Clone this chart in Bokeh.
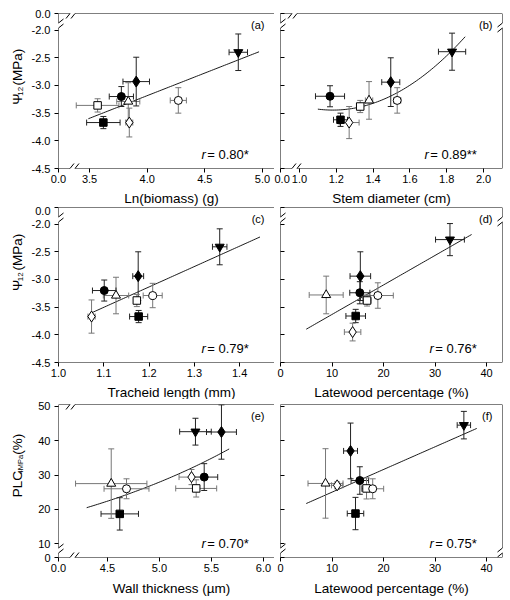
import numpy as np
from bokeh.plotting import figure
from bokeh.models import Range1d, FixedTicker, Label, Arrow, ColumnDataSource
from bokeh.layouts import row, column
from bokeh.core.properties import field
from bokeh.embed import file_html
from bokeh.resources import INLINE

FONT = "Liberation Sans"

# ---------------- data ----------------
# species order: filled inv. triangle, filled diamond, filled circle, open triangle,
# open square, filled square, open diamond, open circle
species = ["T", "D", "C", "oT", "oS", "S", "oD", "oC"]
markers = ["inverted_triangle", "diamond", "circle", "triangle", "square", "square", "diamond", "circle"]
fills = ["black", "black", "black", "white", "white", "black", "white", "white"]
err_colors = ["#222222", "#222222", "#222222", "#777777", "#777777", "#222222", "#777777", "#777777"]
sizes = [9, 11, 8, 9, 7.5, 7.5, 11, 8]

# (a) Ln(biomass) vs Psi12
biomass = [4.79, 3.905, 3.776, 3.836, 3.57, 3.62, 3.845, 4.27]
biomass_err = [0.08, 0.115, 0.105, 0.10, 0.185, 0.145, 0.03, 0.07]
psi_a = [-2.40, -2.93, -3.20, -3.29, -3.36, -3.67, -3.67, -3.27]
psi_a_err = [0.33, 0.44, 0.18, 0.34, 0.12, 0.11, 0.26, 0.23]

# (b) stem diameter vs Psi12
stem = [1.829, 1.496, 1.166, 1.378, 1.330, 1.223, 1.270, 1.531]
stem_err = [0.074, 0.049, 0.079, 0.02, 0.018, 0.038, 0.054, 0.02]
psi_b = [-2.39, -2.94, -3.195, -3.27, -3.38, -3.62, -3.67, -3.27]
psi_b_err = [0.335, 0.44, 0.19, 0.34, 0.11, 0.12, 0.29, 0.23]

# (c) tracheid length vs Psi12
tracheid = [1.356, 1.176, 1.101, 1.127, 1.173, 1.177, 1.073, 1.208]
tracheid_err = [0.016, 0.012, 0.026, 0.028, 0.006, 0.02, 0.008, 0.021]
psi_c = [-2.41, -2.94, -3.20, -3.29, -3.38, -3.67, -3.67, -3.29]
psi_c_err = [0.325, 0.44, 0.19, 0.33, 0.11, 0.11, 0.30, 0.22]

# (d) latewood percentage vs Psi12
latewood_d = [32.9, 15.5, 15.4, 8.87, 16.8, 14.6, 14.0, 18.9]
latewood_d_err = [2.8, 2.0, 1.95, 3.3, 0.8, 1.9, 1.6, 3.0]
psi_d = [-2.28, -2.94, -3.24, -3.28, -3.38, -3.66, -3.95, -3.29]
psi_d_err = [0.29, 0.44, 0.2, 0.34, 0.1, 0.12, 0.16, 0.23]

# (e) wall thickness vs PLC4MPa
wall = [5.346, 5.596, 5.43, 4.536, 5.353, 4.618, 5.308, 4.683]
wall_err = [0.152, 0.144, 0.13, 0.343, 0.197, 0.18, 0.12, 0.216]
plc_e = [42.6, 42.5, 29.4, 27.5, 26.1, 18.7, 29.4, 26.0]
plc_e_err = [3.9, 7.9, 3.9, 10.1, 2.5, 4.7, 2.2, 2.9]

# (f) latewood percentage vs PLC4MPa
latewood_f = [35.6, 13.6, 15.4, 8.74, 16.7, 14.56, 11.0, 17.9]
latewood_f_err = [1.3, 1.35, 1.7, 3.4, 1.0, 1.6, 1.1, 2.13]
plc_f = [44.5, 37.0, 28.4, 27.55, 26.1, 18.8, 27.0, 26.0]
plc_f_err = [4.0, 8.1, 4.0, 10.1, 3.06, 4.7, 1.0, 2.9]

# regression extents
fit_x_a = [3.49, 4.97]
fit_x_b = [1.10, 1.90]
fit_x_c = [1.073, 1.445]
fit_x_d = [5.0, 37.1]
fit_x_e = [4.30, 5.67]
fit_x_f = [5.0, 38.1]

r_texts = ["0.80*", "0.89**", "0.79*", "0.76*", "0.70*", "0.75*"]
panel_keys = ["a", "b", "c", "d", "e", "f"]

# ticks
psi_range = (-4.5, -1.70)
psi_ticks = [-4.5, -4.0, -3.5, -3.0, -2.5, -2.0]
psi_labels = ["-4.5", "-4.0", "-3.5", "-3.0", "-2.5", "-2.0"]
plc_range = (6.02, 50.5)
plc_ticks = [10, 20, 30, 40, 50]
plc_labels = ["10", "20", "30", "40", "50"]

biomass_range = (3.231, 5.104)
biomass_ticks = [3.5, 4.0, 4.5, 5.0]
biomass_labels = ["3.5", "4.0", "4.5", "5.0"]
stem_range = (0.897, 2.103)
stem_ticks = [1.0, 1.2, 1.4, 1.6, 1.8, 2.0]
stem_labels = ["1.0", "1.2", "1.4", "1.6", "1.8", "2.0"]
tracheid_range = (1.0, 1.477)
tracheid_ticks = [1.0, 1.1, 1.2, 1.3, 1.4]
tracheid_labels = ["1.0", "1.1", "1.2", "1.3", "1.4"]
latewood_range = (0.0, 43.1)
latewood_ticks = [0, 10, 20, 30, 40]
latewood_labels = ["0", "10", "20", "30", "40"]
wall_range = (4.029, 6.106)
wall_ticks = [4.5, 5.0, 5.5, 6.0]
wall_labels = ["4.5", "5.0", "5.5", "6.0"]

x_titles = ["Ln(biomass) (g)", "Stem diameter (cm)", "Tracheid length (mm)",
            "Latewood percentage (%)", "Wall thickness (\u00b5m)", "Latewood percentage (%)"]
# (text, font px, shift toward baseline, gap after)
psi_title = [("\u03a8", 13.5, 0, 0.5), ("12", 8, 3, 3.5), ("(MPa)", 13.5, 0, 0)]
plc_title = [("PLC", 13.5, 0, 0.5), ("4MPa", 7.5, 3, 3.5), ("(%)", 13.5, 0, 0)]

# Arial-like advance widths (em)
CW = {" ": .278, "=": .584, ".": .278, "*": .389, "r": .333, "(": .333, ")": .333,
      "%": .889, "M": .833, "P": .667, "a": .556, "L": .556, "C": .722, "\u03a8": .80}

# row geometry: (top border, frame height, bottom border), and title strip heights
ROWS = [(13, 155, 22), (1, 155, 22), (5, 153, 22)]
STRIPS = [16, 15, 21]
STRIP_Y = [8, 7, 12]
TITLE_W = 28
LEFT_W = 30 + 216
RIGHT_W = 6 + 222 + 8


def tw(s, size):
    return sum(CW.get(ch, .556) for ch in s) * size


def seg(p, xa, ya, xb, yb, color="black", w=1.0):
    p.add_layout(Arrow(end=None, x_start=xa, y_start=ya, x_end=xb, y_end=yb,
                       line_color=color, line_width=w))


def blank_fig(w, h):
    p = figure(width=w, height=h, x_range=Range1d(0, w), y_range=Range1d(0, h),
               min_border=0, output_backend="svg", toolbar_location=None, tools="",
               x_axis_location=None, y_axis_location=None, title=None)
    p.outline_line_color = None
    p.xgrid.visible = False
    p.ygrid.visible = False
    return p


def title_fig(row_i, pieces, start):
    bt, fh, bb = ROWS[row_i]
    p = blank_fig(TITLE_W, bt + fh + bb)
    pos = bb + start
    for txt, fs, shift, gap in pieces:
        p.add_layout(Label(x=17 + shift, y=pos, text=txt, angle=np.pi / 2,
                           text_align="left", text_baseline="middle", text_font=FONT,
                           text_font_size="%spx" % fs, text_color="black"))
        pos += tw(txt, fs) + gap
    return p


def strip_fig(row_i, left_title, right_title):
    h = STRIPS[row_i]
    p = blank_fig(TITLE_W + LEFT_W + RIGHT_W, h)
    yc = STRIP_Y[row_i]
    for txt, xc in ((left_title, 171), (right_title, 391)):
        p.add_layout(Label(x=xc, y=yc, text=txt, text_align="center", text_baseline="middle",
                           text_font=FONT, text_font_size="13.5px", text_color="black"))
    return p


def make_panel(i, x, xe, y, ye, fit, fit_x, xr, yr, xt, xl, x_break_label,
               yt, yl, y_break_label, row_i):
    col = i % 2
    left = col == 0
    x0, x1 = xr
    y0, y1 = yr
    fw = 216 if left else 222
    bl = 30 if left else 6
    br = 0 if left else 8
    bt, fh, bb = ROWS[row_i]
    p = figure(width=bl + fw + br, height=bt + fh + bb,
               x_range=Range1d(x0, x1), y_range=Range1d(y0, y1),
               min_border_left=bl, min_border_right=br, min_border_top=bt, min_border_bottom=bb,
               output_backend="svg", toolbar_location=None, tools="", title=None)
    p.outline_line_color = None
    p.xgrid.visible = False
    p.ygrid.visible = False
    p.background_fill_color = "white"
    p.border_fill_color = "white"
    dx = (x1 - x0) / fw
    dy = (y1 - y0) / fh

    # ticks
    xticks = list(xt)
    xlabs = list(xl)
    if x_break_label is not None:
        xticks = [x0] + xticks
        xlabs = [x_break_label] + xlabs
    yticks = list(yt)
    ylabs = list(yl)
    if row_i < 2:
        yticks = yticks + [y1]
        ylabs = ylabs + [y_break_label]
    else:
        yticks = [y0] + yticks
        ylabs = [y_break_label] + ylabs

    xa = p.xaxis[0]
    ya = p.yaxis[0]
    xa.ticker = FixedTicker(ticks=xticks)
    xa.major_label_overrides = {t: s for t, s in zip(xticks, xlabs)}
    ya.ticker = FixedTicker(ticks=yticks)
    for ax in (xa, ya):
        ax.axis_line_color = None
        ax.minor_tick_line_color = None
        ax.major_tick_line_color = "black"
        ax.major_label_text_font = FONT
        ax.major_label_text_font_size = "11px"
        ax.major_label_text_color = "black"
    xa.major_tick_out = 4
    xa.major_tick_in = 0
    xa.major_label_standoff = 2
    if left:
        ya.major_label_overrides = {t: s for t, s in zip(yticks, ylabs)}
        ya.major_tick_out = 4
        ya.major_tick_in = 0
        ya.major_label_standoff = 4
    else:
        ya.major_label_overrides = {t: "" for t in yticks}
        ya.major_tick_out = 0
        ya.major_tick_in = 4
        ya.major_label_text_font_size = "0px"
        ya.major_label_standoff = 0

    # regression
    xa_ = np.array(x, dtype=float)
    ya_ = np.array(y, dtype=float)
    fx = np.linspace(fit_x[0], fit_x[1], 80)
    if fit == "lin":
        fy = np.polyval(np.polyfit(xa_, ya_, 1), fx)
    elif fit == "quad":
        fy = np.polyval(np.polyfit(xa_, ya_, 2), fx)
    else:
        fy = np.exp(np.polyval(np.polyfit(xa_, np.log(ya_), 1), fx))
    p.line(fx, fy, line_color="black", line_width=0.9)

    xe_ = np.array(xe, dtype=float)
    ye_ = np.array(ye, dtype=float)
    src = ColumnDataSource(dict(x=xa_, y=ya_, xl=xa_ - xe_, xh=xa_ + xe_, yl=ya_ - ye_, yh=ya_ + ye_,
                                ec=err_colors, m=markers, f=fills, s=sizes))
    p.segment(x0="xl", y0="y", x1="xh", y1="y", line_color="ec", line_width=1, source=src)
    p.segment(x0="x", y0="yl", x1="x", y1="yh", line_color="ec", line_width=1, source=src)
    for xc in ("xl", "xh"):
        p.scatter(x=xc, y="y", marker="dash", angle=np.pi / 2, size=6, line_color="ec", source=src)
    for yc in ("yl", "yh"):
        p.scatter(x="x", y=yc, marker="dash", size=6, line_color="ec", source=src)
    p.scatter(x="x", y="y", marker=field("m"), size="s", fill_color="f", line_color="black",
              line_width=1, source=src)

    # spines with breaks
    g = 2.5
    xs = x0 - (6 * dx if not left else 0)
    xb = x0 + 14 * dx if x_break_label is not None else None
    for yy in (y0, y1):
        if xb is None:
            seg(p, xs, yy, x1, yy)
        else:
            seg(p, xs, yy, xb - g * dx, yy)
            seg(p, xb + g * dx, yy, x1, yy)
            for sgn in (-1, 1):
                xc = xb + sgn * g * dx
                seg(p, xc - 4 * dx, yy - 5 * dy, xc + 4 * dx, yy + 5 * dy)
    yb = (y1 - 12 * dy) if row_i < 2 else (y0 + 7 * dy)
    vx = [x0] if left else [x0, x1]
    for xx in vx:
        seg(p, xx, y0, xx, yb - g * dy)
        seg(p, xx, yb + g * dy, xx, y1)
        for sgn in (-1, 1):
            yc = yb + sgn * g * dy
            seg(p, xx - 5 * dx, yc - 4 * dy, xx + 5 * dx, yc + 4 * dy)

    # panel letter
    p.add_layout(Label(x=x1 - 10 * dx, y=y1 - 11 * dy, text="(%s)" % panel_keys[i],
                       text_align="right", text_baseline="middle", text_font=FONT,
                       text_font_size="11px", text_color="black"))
    # r annotation
    rest = " = " + r_texts[i]
    rx = x1 - 22 * dx
    ry = y0 + 14 * dy
    p.add_layout(Label(x=rx, y=ry, text=rest, text_align="right", text_baseline="middle",
                       text_font=FONT, text_font_size="13px", text_color="black"))
    p.add_layout(Label(x=rx - (tw(rest, 13) + 1.5) * dx, y=ry, text="r", text_align="right",
                       text_baseline="middle", text_font=FONT, text_font_size="13px",
                       text_font_style="italic", text_color="black"))
    return p


pa = make_panel(0, biomass, biomass_err, psi_a, psi_a_err, "lin", fit_x_a, biomass_range, psi_range,
                biomass_ticks, biomass_labels, "0.0", psi_ticks, psi_labels, "0.0", 0)
pb = make_panel(1, stem, stem_err, psi_b, psi_b_err, "quad", fit_x_b, stem_range, psi_range,
                stem_ticks, stem_labels, "0.0", psi_ticks, psi_labels, "0.0", 0)
pc = make_panel(2, tracheid, tracheid_err, psi_c, psi_c_err, "lin", fit_x_c, tracheid_range, psi_range,
                tracheid_ticks, tracheid_labels, None, psi_ticks, psi_labels, "0.0", 1)
pd_ = make_panel(3, latewood_d, latewood_d_err, psi_d, psi_d_err, "lin", fit_x_d, latewood_range, psi_range,
                 latewood_ticks, latewood_labels, None, psi_ticks, psi_labels, "0.0", 1)
pe = make_panel(4, wall, wall_err, plc_e, plc_e_err, "exp", fit_x_e, wall_range, plc_range,
                wall_ticks, wall_labels, "0.0", plc_ticks, plc_labels, "0", 2)
pf = make_panel(5, latewood_f, latewood_f_err, plc_f, plc_f_err, "lin", fit_x_f, latewood_range, plc_range,
                latewood_ticks, latewood_labels, None, plc_ticks, plc_labels, "0", 2)

ta = title_fig(0, psi_title, 56)
tc = title_fig(1, psi_title, 60)
te = title_fig(2, plc_title, 49)

s1 = strip_fig(0, x_titles[0], x_titles[1])
s2 = strip_fig(1, x_titles[2], x_titles[3])
s3 = strip_fig(2, x_titles[4], x_titles[5])

layout = column(row(ta, pa, pb), s1, row(tc, pc, pd_), s2, row(te, pe, pf), s3)
open("out.html", "w").write(file_html(layout, INLINE))
